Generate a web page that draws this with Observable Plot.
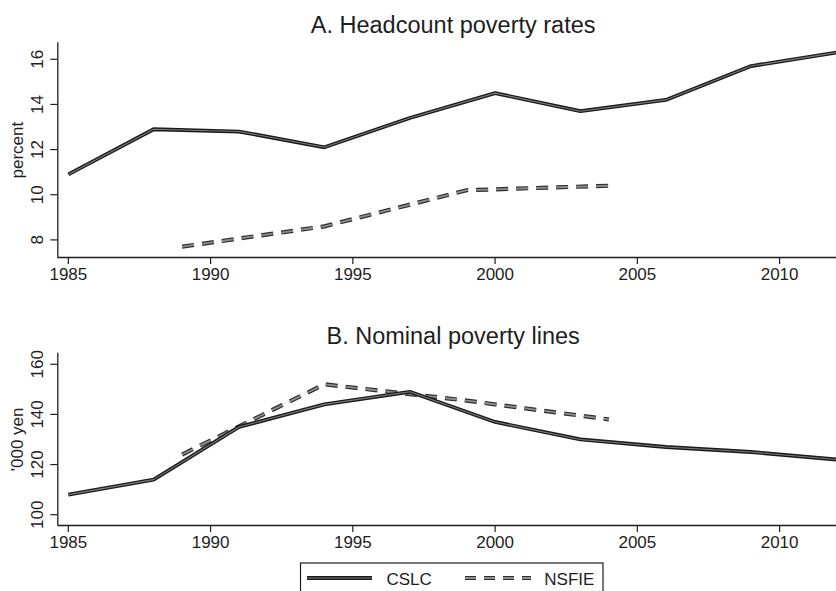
<!DOCTYPE html>
<html>
<head>
<meta charset="utf-8">
<script src="https://cdn.jsdelivr.net/npm/d3@7"></script>
<script src="https://cdn.jsdelivr.net/npm/@observablehq/plot@0.6"></script>
<style>
  html, body { margin: 0; padding: 0; background: #fff; overflow: hidden; }
  #chart { position: relative; width: 836px; height: 591px; overflow: hidden;
           font-family: "Liberation Sans", Arial, Helvetica, sans-serif; }
  #chart > svg { position: absolute; left: 0; overflow: visible; }
</style>
</head>
<body>
<div id="chart"></div>
<script>
// Survey years and series values
const cslcYears  = [1985, 1988, 1991, 1994, 1997, 2000, 2003, 2006, 2009, 2012];
const cslcRates  = [10.9, 12.9, 12.8, 12.1, 13.4, 14.5, 13.7, 14.2, 15.7, 16.3];
const cslcLines  = [108, 114, 135, 144, 149, 137, 130, 127, 125, 122];
const nsfieYears = [1989, 1994, 1999, 2004];
const nsfieRates = [7.7, 8.6, 10.2, 10.4];
const nsfieLines = [124, 152, 145.5, 138];

// Axis ticks and labels
const yearTicks = [1985, 1990, 1995, 2000, 2005, 2010];
const rateTicks = [8, 10, 12, 14, 16];
const lineTicks = [100, 120, 140, 160];
const seriesNames = ["CSLC", "NSFIE"];
const panelTitles = ["A. Headcount poverty rates", "B. Nominal poverty lines"];
const yLabels = ["percent", "'000 yen"];

const FONT = '"Liberation Sans", Arial, Helvetica, sans-serif';
const INK = "#1e1e1e";
const DASH = "12,8";
const TICK_FONT = 17;
const TITLE_FONT = 23.5;

// Each series is drawn as a dark stroke with a lighter core
function seriesMarks(data, dashed) {
  const outer = {x: "year", y: "value", stroke: dashed ? "#2e2e2e" : "#1a1a1a",
                 strokeWidth: dashed ? 4.2 : 3.8, strokeLinejoin: "miter",
                 strokeLinecap: "butt", curve: "linear"};
  const inner = {x: "year", y: "value", stroke: dashed ? "#8f8f8f" : "#7d7d7d",
                 strokeWidth: dashed ? 1.8 : 1.1, strokeLinejoin: "miter",
                 strokeLinecap: "butt", curve: "linear"};
  if (dashed) { outer.strokeDasharray = DASH; inner.strokeDasharray = DASH; }
  return [Plot.line(data, outer), Plot.line(data, inner)];
}

function panel({title, ylabel, yDomain, yTicks, cslc, nsfie, top, height, marginTop, marginBottom}) {
  const cData = cslcYears.map((year, i) => ({year, value: cslc[i]}));
  const nData = nsfieYears.map((year, i) => ({year, value: nsfie[i]}));
  const xDomain = [1984.63, 2012.0];
  const svg = Plot.plot({
    width: 836,
    height,
    marginLeft: 57.3,
    marginRight: 0,
    marginTop,
    marginBottom,
    style: {fontFamily: FONT, fontSize: TICK_FONT + "px", color: INK, background: "transparent", overflow: "visible"},
    x: {domain: xDomain},
    y: {domain: yDomain},
    marks: [
      Plot.axisX({ticks: yearTicks, tickFormat: d => String(d), tickSize: 7, tickPadding: 3.5,
                  fontSize: TICK_FONT, label: null, stroke: INK, strokeWidth: 1.2}),
      Plot.axisY({ticks: yTicks, tickFormat: d => String(d), tickSize: 7, tickPadding: 8,
                  tickRotate: -90, fontSize: TICK_FONT, stroke: INK, strokeWidth: 1.2,
                  label: ylabel, labelAnchor: "center", labelArrow: "none", labelOffset: 46.5}),
      Plot.ruleY([yDomain[0]], {stroke: INK, strokeWidth: 1.3}),
      Plot.ruleX([xDomain[0]], {stroke: INK, strokeWidth: 1.3}),
      ...seriesMarks(nData, true),
      ...seriesMarks(cData, false),
      Plot.text([title], {text: d => d, frameAnchor: "top", lineAnchor: "bottom",
                          dy: -9.5, dx: 6, fontSize: TITLE_FONT, fill: INK})
    ]
  });
  svg.style.top = top + "px";
  return svg;
}

const chart = document.getElementById("chart");

chart.appendChild(panel({
  title: panelTitles[0], ylabel: yLabels[0],
  yDomain: [7.22, 16.73], yTicks: rateTicks,
  cslc: cslcRates, nsfie: nsfieRates,
  top: 0, height: 290, marginTop: 42.3, marginBottom: 33
}));

chart.appendChild(panel({
  title: panelTitles[1], ylabel: yLabels[1],
  yDomain: [95.7, 164.4], yTicks: lineTicks,
  cslc: cslcLines, nsfie: nsfieLines,
  top: 290, height: 270, marginTop: 62.7, marginBottom: 35
}));

// Legend box below the panels
const legend = d3.select(chart).append("svg")
  .attr("width", 836).attr("height", 60)
  .style("top", "555px");
legend.append("rect")
  .attr("x", 300.5).attr("y", 8).attr("width", 302.5).attr("height", 60)
  .attr("fill", "#fff").attr("stroke", INK).attr("stroke-width", 1.2);

const samples = [
  {x0: 307, x1: 372, tx: 386.5, dashed: false},
  {x0: 465, x1: 531, tx: 544.3, dashed: true}
];
samples.forEach((s, i) => {
  const g = legend.append("g");
  g.append("line").attr("x1", s.x0).attr("x2", s.x1).attr("y1", 23).attr("y2", 23)
    .attr("stroke", s.dashed ? "#2e2e2e" : "#1a1a1a").attr("stroke-width", s.dashed ? 4.2 : 3.8)
    .attr("stroke-dasharray", s.dashed ? "11,8" : null);
  g.append("line").attr("x1", s.x0).attr("x2", s.x1).attr("y1", 23).attr("y2", 23)
    .attr("stroke", s.dashed ? "#8f8f8f" : "#7d7d7d").attr("stroke-width", s.dashed ? 1.8 : 1.1)
    .attr("stroke-dasharray", s.dashed ? "11,8" : null);
  g.append("text").attr("x", s.tx).attr("y", 29.5)
    .attr("font-family", FONT).attr("font-size", TICK_FONT).attr("fill", INK)
    .text(seriesNames[i]);
});
</script>
</body>
</html>
